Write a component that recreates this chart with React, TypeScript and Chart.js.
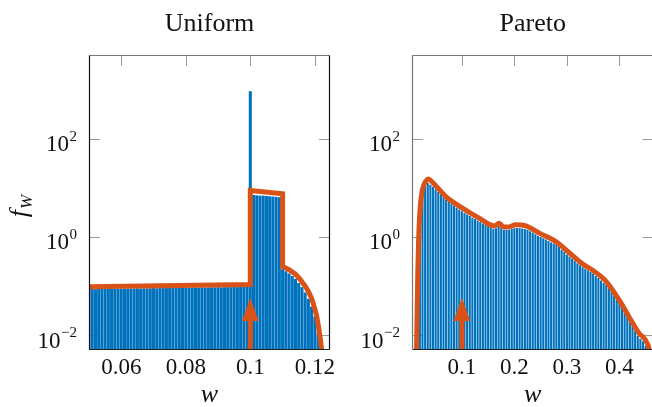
import React, { useEffect, useRef } from 'react';
import { Chart, registerables } from 'chart.js';
Chart.register(...registerables);

const SERIF = '"Liberation Serif", "Times New Roman", serif';
const BLUE = '#0072BD';
const ORANGE = '#D95319';

// shared log y-axis
const yMin = 0.005;
const yMax = 5000;
const yTickValues = [0.01, 1, 100];
const yTickBase = '10';
const yTickExponents = ['\u22122', '0', '2'];
const yLabelMain = 'f';
const yLabelSub = 'W';
const xLabel = 'w';

// ---- Uniform panel ----
const uniformTitle = 'Uniform';
const uniformXMin = 0.05;
const uniformXMax = 0.1247;
const uniformXTicks = [0.06, 0.08, 0.1, 0.12];
const uniformXTickLabels = ['0.06', '0.08', '0.1', '0.12'];
const uniformBinStart = 0.05;
const uniformBinWidth = 0.001;
const uniformBinValues = [
  0.086, 0.087, 0.086, 0.087, 0.087, 0.088, 0.087, 0.088, 0.088, 0.088,
  0.089, 0.088, 0.089, 0.089, 0.089, 0.090, 0.089, 0.090, 0.090, 0.090,
  0.091, 0.090, 0.091, 0.091, 0.091, 0.092, 0.091, 0.092, 0.092, 0.092,
  0.093, 0.092, 0.093, 0.093, 0.093, 0.094, 0.093, 0.094, 0.094, 0.094,
  0.095, 0.094, 0.095, 0.095, 0.095, 0.096, 0.095, 0.096, 0.096, 0.097,
  920,
  7.1, 7.0, 6.9, 6.9, 6.8, 6.7, 6.6, 6.5, 6.4,
  0.22, 0.2, 0.18, 0.16, 0.14, 0.115, 0.095, 0.074, 0.055, 0.038, 0.024, 0.011,
];
const uniformCurveW = [0.05, 0.1, 0.1, 0.11, 0.11, 0.112, 0.114, 0.1155, 0.117, 0.118, 0.119, 0.1197, 0.1205, 0.1212, 0.1218, 0.1223, 0.1226];
const uniformCurveF = [0.097, 0.107, 8.8, 7.5, 0.25, 0.215, 0.175, 0.135, 0.1, 0.078, 0.056, 0.04, 0.026, 0.014, 0.0075, 0.004, 0.002];
const uniformArrowW = 0.1;
const uniformArrowTip = 0.057;

// ---- Pareto panel ----
const paretoTitle = 'Pareto';
const paretoXMin = 0.005;
const paretoXMax = 0.465;
const paretoXTicks = [0.1, 0.2, 0.3, 0.4];
const paretoXTickLabels = ['0.1', '0.2', '0.3', '0.4'];
const paretoBinStart = 0.02;
const paretoBinWidth = 0.005;
const paretoBinValues = [
  2.0, 7.0, 11.0, 12.5, 11.5, 10.5, 9.3, 8.2, 7.3, 6.4,
  5.7, 5.2, 4.7, 4.3, 3.9, 3.6, 3.3, 3.05, 2.85, 2.65,
  2.45, 2.3, 2.15, 2.0, 1.85, 1.75, 1.65, 1.55, 1.45, 1.5,
  1.65, 1.5, 1.4, 1.38, 1.4, 1.46, 1.5, 1.52, 1.5, 1.48,
  1.45, 1.4, 1.3, 1.22, 1.13, 1.05, 0.99, 0.94, 0.88, 0.82,
  0.77, 0.73, 0.68, 0.62, 0.55, 0.5, 0.44, 0.4, 0.36, 0.33,
  0.29, 0.265, 0.24, 0.225, 0.21, 0.195, 0.18, 0.16, 0.145, 0.13,
  0.115, 0.105, 0.09, 0.076, 0.063, 0.052, 0.044, 0.036, 0.029, 0.024,
  0.019, 0.015, 0.012, 0.0098, 0.0085, 0.0075, 0.006,
];
const paretoCurveW = [0.0134, 0.0145, 0.016, 0.0175, 0.0185, 0.021, 0.0237, 0.027, 0.031, 0.0363, 0.044, 0.0695, 0.101, 0.133, 0.162, 0.171, 0.178, 0.187, 0.203, 0.222, 0.2475, 0.279, 0.305, 0.33, 0.349, 0.375, 0.4, 0.419, 0.438, 0.448, 0.457, 0.462];
const paretoCurveF = [0.003, 0.02, 0.18, 0.8, 1.6, 4.5, 7.8, 11, 13.5, 15.1, 12.9, 6.6, 3.85, 2.4, 1.67, 1.9, 1.62, 1.58, 1.76, 1.67, 1.19, 0.8, 0.47, 0.28, 0.21, 0.123, 0.051, 0.023, 0.0107, 0.0085, 0.005, 0.002];
const paretoArrowW = 0.1;
const paretoArrowTip = 0.057;

type PanelCfg = {
  title: string;
  xMin: number; xMax: number;
  xTicks: number[]; xTickLabels: string[];
  binStart: number; binWidth: number; binValues: number[];
  curveW: number[]; curveF: number[];
  arrowW: number; arrowTip: number;
  left: number; width: number;
  yAxisWidth: number; padRight: number;
  barPct: number; tension: number;
  showYLabel: boolean;
  frame: { left: string; right: string; top: string; bottom: string };
};

function decorPlugin(p: PanelCfg) {
  return {
    id: 'decor',
    beforeDatasetsDraw(chart: any) {
      const { ctx, chartArea: a, scales } = chart;
      const x = scales.x, y = scales.y;
      ctx.save();
      ctx.fillStyle = '#3d8fd0';
      ctx.restore();
      ctx.save();
      ctx.strokeStyle = '#9a9a9a';
      ctx.lineWidth = 1;
      ctx.beginPath();
      const tl = 11;
      p.xTicks.forEach((v) => {
        const px = Math.round(x.getPixelForValue(v)) + 0.5;
        ctx.moveTo(px, a.top); ctx.lineTo(px, a.top + tl);
        ctx.moveTo(px, a.bottom); ctx.lineTo(px, a.bottom - tl);
      });
      yTickValues.forEach((v) => {
        const py = Math.round(y.getPixelForValue(v)) + 0.5;
        ctx.moveTo(a.left, py); ctx.lineTo(a.left + tl, py);
        ctx.moveTo(a.right, py); ctx.lineTo(a.right - tl, py);
      });
      ctx.stroke();
      ctx.restore();
    },
    afterDatasetsDraw(chart: any) {
      const { ctx, chartArea: a, scales } = chart;
      const x = scales.x, y = scales.y;
      ctx.save();
      // arrow (Dirac mass)
      ctx.save();
      ctx.beginPath();
      ctx.rect(a.left, a.top, a.right - a.left, a.bottom - a.top);
      ctx.clip();
      const ax = x.getPixelForValue(p.arrowW);
      const tip = y.getPixelForValue(p.arrowTip);
      ctx.strokeStyle = ORANGE;
      ctx.fillStyle = ORANGE;
      ctx.lineWidth = 5;
      ctx.beginPath();
      ctx.moveTo(ax, a.bottom + 3);
      ctx.lineTo(ax, tip + 18);
      ctx.stroke();
      ctx.beginPath();
      ctx.moveTo(ax, tip);
      ctx.lineTo(ax - 8.5, tip + 23);
      ctx.lineTo(ax + 8.5, tip + 23);
      ctx.closePath();
      ctx.fill();
      ctx.restore();

      // frame
      ctx.lineWidth = 1.2;
      const L = Math.round(a.left) + 0.5, R = Math.round(a.right) - 0.5;
      const T = Math.round(a.top) + 0.5, B = Math.round(a.bottom) - 0.5;
      ctx.strokeStyle = p.frame.top; ctx.beginPath(); ctx.moveTo(L, T); ctx.lineTo(R, T); ctx.stroke();
      ctx.strokeStyle = p.frame.bottom; ctx.beginPath(); ctx.moveTo(L, B); ctx.lineTo(R, B); ctx.stroke();
      ctx.strokeStyle = p.frame.left; ctx.beginPath(); ctx.moveTo(L, T); ctx.lineTo(L, B); ctx.stroke();
      ctx.strokeStyle = p.frame.right; ctx.beginPath(); ctx.moveTo(R, T); ctx.lineTo(R, B); ctx.stroke();

      ctx.fillStyle = '#111';
      // title
      ctx.font = `26px ${SERIF}`;
      ctx.textAlign = 'center';
      ctx.textBaseline = 'alphabetic';
      ctx.fillText(p.title, (a.left + a.right) / 2, 31);

      // x tick labels
      ctx.font = `23px ${SERIF}`;
      p.xTicks.forEach((v, i) => {
        ctx.fillText(p.xTickLabels[i], x.getPixelForValue(v), 374);
      });

      // x label
      ctx.font = `italic 26px ${SERIF}`;
      ctx.fillText(xLabel, (a.left + a.right) / 2, 402);

      // y tick labels: 10^k
      yTickValues.forEach((v, i) => {
        const py = y.getPixelForValue(v);
        const rightEdge = a.left - 12;
        ctx.font = `15px ${SERIF}`;
        const ew = ctx.measureText(yTickExponents[i]).width;
        ctx.textAlign = 'left';
        ctx.fillText(yTickExponents[i], rightEdge - ew, py + 2);
        ctx.font = `23px ${SERIF}`;
        ctx.textAlign = 'right';
        ctx.fillText(yTickBase, rightEdge - ew - 0.5, py + 12.5);
      });

      // y label f_W
      if (p.showYLabel) {
        ctx.save();
        ctx.translate(27, 206);
        ctx.rotate(-Math.PI / 2);
        ctx.font = `italic 26px ${SERIF}`;
        const fw = ctx.measureText(yLabelMain).width;
        ctx.font = `italic 17px ${SERIF}`;
        const sw = ctx.measureText(yLabelSub).width;
        const total = fw + sw + 1;
        ctx.textAlign = 'left';
        ctx.font = `italic 26px ${SERIF}`;
        ctx.fillText(yLabelMain, -total / 2, 0);
        ctx.font = `italic 17px ${SERIF}`;
        ctx.fillText(yLabelSub, -total / 2 + fw + 1, 5);
        ctx.restore();
      }
      ctx.restore();
    },
  };
}

function Panel({ cfg }: { cfg: PanelCfg }) {
  const ref = useRef<HTMLCanvasElement | null>(null);
  useEffect(() => {
    if (!ref.current) return;
    const bars = cfg.binValues.map((v, i) => ({ x: cfg.binStart + i * cfg.binWidth, y: v }));
    const curve = cfg.curveW.map((w, i) => ({ x: w, y: cfg.curveF[i] }));
    const chart = new Chart(ref.current, {
      type: 'bar',
      data: {
        datasets: [
          {
            type: 'line',
            data: curve,
            borderColor: ORANGE,
            backgroundColor: ORANGE,
            borderWidth: 5,
            pointRadius: 0,
            tension: cfg.tension,
            cubicInterpolationMode: cfg.tension > 0 ? 'monotone' : 'default',
            borderJoinStyle: 'miter',
            fill: false,
            clip: 0,
            order: 0,
          } as any,
          {
            type: 'bar',
            data: bars,
            backgroundColor: BLUE,
            borderWidth: 0,
            barPercentage: cfg.barPct,
            categoryPercentage: 1,
            order: 1,
          } as any,
        ],
      },
      options: {
        animation: false,
        responsive: false,
        events: [],
        layout: { padding: { top: 55, right: cfg.padRight, bottom: 0, left: 0 } },
        plugins: { legend: { display: false }, title: { display: false }, tooltip: { enabled: false } },
        scales: {
          x: {
            type: 'linear',
            min: cfg.xMin,
            max: cfg.xMax,
            offset: false,
            grid: { display: false },
            border: { display: false },
            ticks: { display: false },
            afterBuildTicks: (s: any) => { s.ticks = cfg.xTicks.map((v) => ({ value: v })); },
            afterFit: (s: any) => { s.height = 57; },
          },
          y: {
            type: 'logarithmic',
            min: yMin,
            max: yMax,
            grid: { display: false },
            border: { display: false },
            ticks: { display: false },
            afterFit: (s: any) => { s.width = cfg.yAxisWidth; },
          },
        },
      } as any,
      plugins: [decorPlugin(cfg)],
    });
    return () => chart.destroy();
  }, [cfg]);
  return (
    <div style={{ position: 'absolute', left: cfg.left, top: 0, width: cfg.width, height: 407 }}>
      <canvas ref={ref} width={cfg.width} height={407} style={{ display: 'block' }} />
    </div>
  );
}

const uniformCfg: PanelCfg = {
  title: uniformTitle,
  xMin: uniformXMin, xMax: uniformXMax,
  xTicks: uniformXTicks, xTickLabels: uniformXTickLabels,
  binStart: uniformBinStart, binWidth: uniformBinWidth, binValues: uniformBinValues,
  curveW: uniformCurveW, curveF: uniformCurveF,
  arrowW: uniformArrowW, arrowTip: uniformArrowTip,
  left: 0, width: 345, yAxisWidth: 89, padRight: 15,
  barPct: 0.95, tension: 0, showYLabel: true,
  frame: { left: '#111', right: '#111', top: '#777', bottom: '#222' },
};

const paretoCfg: PanelCfg = {
  title: paretoTitle,
  xMin: paretoXMin, xMax: paretoXMax,
  xTicks: paretoXTicks, xTickLabels: paretoXTickLabels,
  binStart: paretoBinStart, binWidth: paretoBinWidth, binValues: paretoBinValues,
  curveW: paretoCurveW, curveF: paretoCurveF,
  arrowW: paretoArrowW, arrowTip: paretoArrowTip,
  left: 340, width: 316, yAxisWidth: 72, padRight: 2.5,
  barPct: 0.8, tension: 0.3, showYLabel: false,
  frame: { left: '#777', right: '#777', top: '#777', bottom: '#222' },
};

export default function App() {
  return (
    <div style={{ position: 'absolute', left: 0, top: 0, width: 652, height: 407, overflow: 'hidden', background: '#fff' }}>
      <Panel cfg={uniformCfg} />
      <Panel cfg={paretoCfg} />
    </div>
  );
}
